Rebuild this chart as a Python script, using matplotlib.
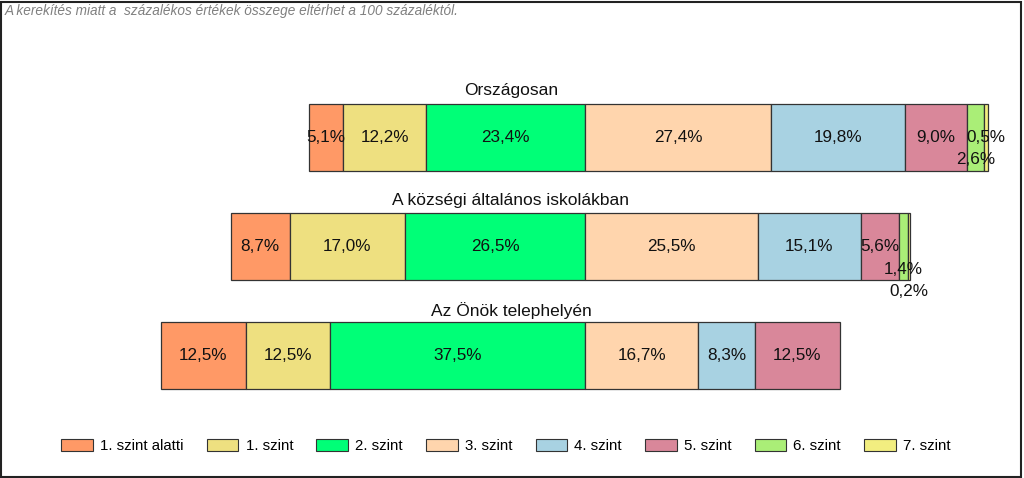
import matplotlib.pyplot as plt
from matplotlib.patches import Rectangle

plt.rcParams['font.family'] = ['Liberation Sans', 'DejaVu Sans']

groups = ['Országosan', 'A községi általános iskolákban', 'Az Önök telephelyén']
levels = ['1. szint alatti', '1. szint', '2. szint', '3. szint',
          '4. szint', '5. szint', '6. szint', '7. szint']
colors = ['#FF9966', '#EEE080', '#00FF77', '#FFD5AD',
          '#A8D2E2', '#D9879A', '#AAEE77', '#F2EE80']

orszagos = [5.1, 12.2, 23.4, 27.4, 19.8, 9.0, 2.6, 0.5]
kozsegi = [8.7, 17.0, 26.5, 25.5, 15.1, 5.6, 1.4, 0.2]
onok = [12.5, 12.5, 37.5, 16.7, 8.3, 12.5, 0.0, 0.0]
values = [orszagos, kozsegi, onok]

note = 'A kerekítés miatt a  százalékos értékek összege eltérhet a 100 százaléktól.'

W, H = 1024, 478
fig = plt.figure(figsize=(W / 100, H / 100), dpi=100)
ax = fig.add_axes([0, 0, 1, 1])
px = 6.79  # pixels per percent
zero = 585  # pixel where 2./3. szint boundary sits
ax.set_xlim(-zero / px, (W - zero) / px)
ax.set_ylim(H, 0)
ax.axis('off')

bar_y = [137, 246, 355]
title_y = [90, 200, 311]
bar_h = 67
# small labels pushed down (row, level) -> steps
shifts = {(0, 6): 1, (1, 6): 1, (1, 7): 2}

for r, vals in enumerate(values):
    left = -sum(vals[:3])
    for i, v in enumerate(vals):
        if v <= 0:
            continue
        ax.barh(bar_y[r], v, left=left, height=bar_h, color=colors[i],
                edgecolor='#333333', linewidth=0.9)
        cx = left + v / 2
        cy = bar_y[r] + 23 * shifts.get((r, i), 0)
        ax.text(cx, cy, f'{v:.1f}%'.replace('.', ','), ha='center', va='center',
                fontsize=12.3, color='#111111')
        left += v
    ax.text(511 / px - zero / px, title_y[r], groups[r], ha='center', va='center',
            fontsize=12.5, color='#111111')

fig.text(5 / W, 1 - 11 / H, note, ha='left', va='center', fontsize=9.8,
         style='italic', color='#808080')

handles = [Rectangle((0, 0), 1, 1, facecolor=c, edgecolor='#333333', linewidth=0.8)
           for c in colors]
fig.legend(handles, levels, loc='center', bbox_to_anchor=(506 / W, 1 - 446 / H),
           ncol=8, frameon=False, fontsize=10.8, handlelength=2.1, handleheight=0.9,
           handletextpad=0.48, columnspacing=1.55)

fig.add_artist(Rectangle((1 / W, 1.5 / H), 1020 / W, 475 / H, transform=fig.transFigure,
                         fill=False, edgecolor='#222222', linewidth=1.5))

fig.savefig('out.png', dpi=100)
